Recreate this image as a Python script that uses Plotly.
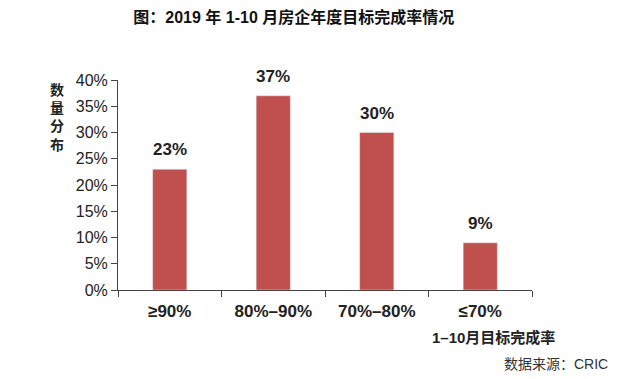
import plotly.graph_objects as go

categories = ["≥90%", "80%–90%", "70%–80%", "≤70%"]
values = [23, 37, 30, 9]
labels = ["23%", "37%", "30%", "9%"]
y_ticks = [0, 5, 10, 15, 20, 25, 30, 35, 40]
y_ticklabels = [f"{v}%" for v in y_ticks]

FONT = "Liberation Sans, Noto Sans CJK SC, sans-serif"
BAR = "#C0504D"

fig = go.Figure(go.Bar(x=categories, y=values, marker_color=BAR))

label_anns = [
    dict(x=c, y=v, text=f"<b>{t}</b>", xref="x", yref="y", showarrow=False,
         yanchor="bottom", yshift=8, font=dict(size=17, color="#222"))
    for c, v, t in zip(categories, values, labels)
]

fig.update_layout(
    width=624, height=379,
    margin=dict(l=110, r=100, t=72, b=97),
    paper_bgcolor="white", plot_bgcolor="white",
    bargap=0.67, showlegend=False,
    font=dict(family=FONT, color="#222"),
    title=dict(text="<b>图：2019 年 1-10 月房企年度目标完成率情况</b>",
               x=0.458, xanchor="center", y=0.974, yanchor="middle",
               font=dict(size=16, color="#111")),
    xaxis=dict(showline=True, linecolor="#444", linewidth=1,
               ticks="outside", tickson="boundaries", ticklen=6, tickcolor="#444",
               tickfont=dict(size=17, color="#222"), ticklabelstandoff=6,
               tickvals=categories, ticktext=[f"<b>{c}</b>" for c in categories]),
    yaxis=dict(range=[0, 40], showline=True, linecolor="#444", linewidth=1,
               ticks="outside", ticklen=6, tickcolor="#444", showgrid=False,
               tickvals=y_ticks, ticktext=y_ticklabels, zeroline=False,
               tickfont=dict(size=16, color="#222")),
    annotations=label_anns + [
        dict(text="<b>数<br>量<br>分<br>布</b>", xref="paper", yref="paper",
             x=-0.147, y=1.0, xanchor="center", yanchor="top", showarrow=False,
             font=dict(size=14, color="#222"), align="center"),
        dict(text="<b>1–10月目标完成率</b>", xref="paper", yref="paper",
             x=1.06, y=-0.224, xanchor="right", yanchor="middle", showarrow=False,
             font=dict(size=15, color="#222")),
        dict(text="数据来源：CRIC", xref="paper", yref="paper",
             x=1.188, y=-0.352, xanchor="right", yanchor="middle", showarrow=False,
             font=dict(size=14, color="#333")),
    ],
)

fig.write_html("out.html")
